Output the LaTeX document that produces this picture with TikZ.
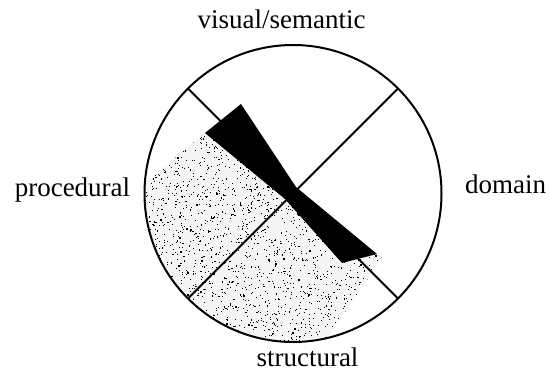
\documentclass[tikz,border=0pt]{standalone}
\usepackage{fontspec}
\setmainfont{Liberation Serif}
\usetikzlibrary{calc}
\tikzset{
  rimline/.style={line width=2pt},
  splitline/.style={line width=1.8pt},
  wedgefill/.style={fill=black},
  facetlabel/.style={font=\fontsize{27}{30}\selectfont, anchor=base, inner sep=0pt},
}

\begin{document}
\begin{tikzpicture}[x=1pt,y=-1pt]
  \useasboundingbox (0,0) rectangle (549,372);
  \coordinate (c) at (293,193.5);

  % ends of the two diameters
  \coordinate (ul) at ($(c)+(-105,-105)$);
  \coordinate (lr) at ($(c)+(105,105)$);
  \coordinate (ur) at ($(c)+(105,-105)$);
  \coordinate (ll) at ($(c)+(-105,105)$);

  % black wedge
  \coordinate (wl) at (205,133);
  \coordinate (wt) at (241,104);
  \coordinate (wc1) at (296,187);
  \coordinate (we1) at (377,254);
  \coordinate (we2) at (342,263);
  \coordinate (wc2) at (285,199);

  % stippled band
  \coordinate (sf) at (382,258);
  \coordinate (sg) at (308,366);
  \coordinate (sh) at (103,218);

  \begin{scope}
    \clip (c) circle (148.5pt);
    \clip (wl) -- (c) -- (we1) -- (sf) -- (sg) -- (130,400) -- (40,260) -- (sh) -- cycle;
    \fill[black!4] (0,0) rectangle (549,372);
    \pgfmathsetseed{7}
    \foreach \k in {1,...,2600} {
      \pgfmathsetmacro{\px}{140+245*rnd}
      \pgfmathsetmacro{\py}{100+245*rnd}
      \pgfmathsetmacro{\ds}{0.4+1.0*rnd}
      \fill (\px,\py) rectangle ++(\ds,\ds);
    }
  \end{scope}

  \draw[splitline] (ul) -- (lr);
  \draw[splitline] (ur) -- (ll);

  \fill[wedgefill] (wl) -- (wt) -- (wc1) -- (we1) -- (we2) -- (wc2) -- cycle;

  \draw[rimline] (c) circle (148.5pt);

  % facet labels
  \node[facetlabel] (vis) at (281.7,28.3) {visual/semantic};
  \node[facetlabel] (proc) at (72.5,196.7) {procedural};
  \node[facetlabel] (dom) at (505.5,193.3) {domain};
  \node[facetlabel] (struc) at (307.5,366.5) {structural};
\end{tikzpicture}
\end{document}
